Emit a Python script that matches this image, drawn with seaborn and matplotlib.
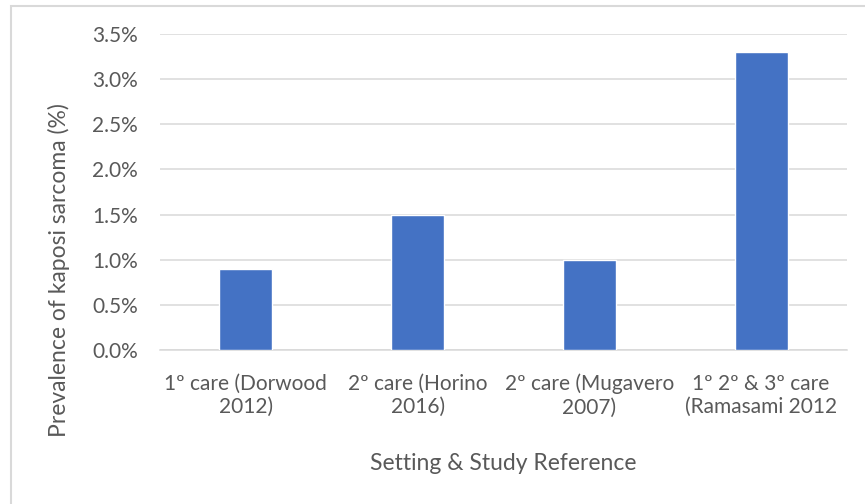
import matplotlib
matplotlib.use("Agg")
import matplotlib.pyplot as plt
import seaborn as sns
import pandas as pd
from matplotlib.ticker import FuncFormatter, MultipleLocator
from matplotlib.patches import Rectangle

categories = ["1º care (Dorwood\n2012)", "2º care (Horino\n2016)",
              "2º care (Mugavero\n2007)", "1º 2º & 3º care\n(Ramasami 2012"]
values = [0.9, 1.5, 1.0, 3.3]

sns.set_theme(style="white")
plt.rcParams['font.family'] = ['Lato', 'DejaVu Sans']

df = pd.DataFrame({"cat": categories, "val": values})

W, H = 865, 504
fig = plt.figure(figsize=(W / 100, H / 100), dpi=100)
ax = fig.add_axes([160 / W, 1 - 350 / H, 687 / W, 316 / H])

sns.barplot(data=df, x="cat", y="val", color="#4472C4", width=0.31,
            saturation=1, ax=ax, zorder=3)

ax.set_ylim(0, 3.5)
ax.set_xlim(-0.5, 3.5)
ax.yaxis.set_major_locator(MultipleLocator(0.5))
ax.yaxis.set_major_formatter(FuncFormatter(lambda v, p: f"{v:.1f}%"))
ax.grid(axis="y", color="#D9D9D9", linewidth=1.1, zorder=0)
ax.set_axisbelow(True)
for s in ["top", "right", "left"]:
    ax.spines[s].set_visible(False)
ax.spines["bottom"].set_color("#D9D9D9")
ax.spines["bottom"].set_linewidth(1.1)
ax.tick_params(axis="both", length=0, labelsize=15, colors="#595959")
ax.tick_params(axis="y", pad=16)
ax.tick_params(axis="x", pad=17)

ax.set_xlabel("Setting & Study Reference", fontsize=16.5, color="#595959", va="center")
ax.set_ylabel("Prevalence of kaposi sarcoma (%)", fontsize=16.5, color="#595959", va="center")
ax.xaxis.set_label_coords(503 / W, 1 - 463 / H, transform=fig.transFigure)
ax.yaxis.set_label_coords(59 / W, 1 - 270 / H, transform=fig.transFigure)

fig.patches.append(Rectangle((11 / W, -0.1), 1.2, 1 - 6 / H + 0.1, transform=fig.transFigure,
                             fill=False, edgecolor="#D9D9D9", linewidth=1.5))

fig.savefig("out.png", dpi=100)
